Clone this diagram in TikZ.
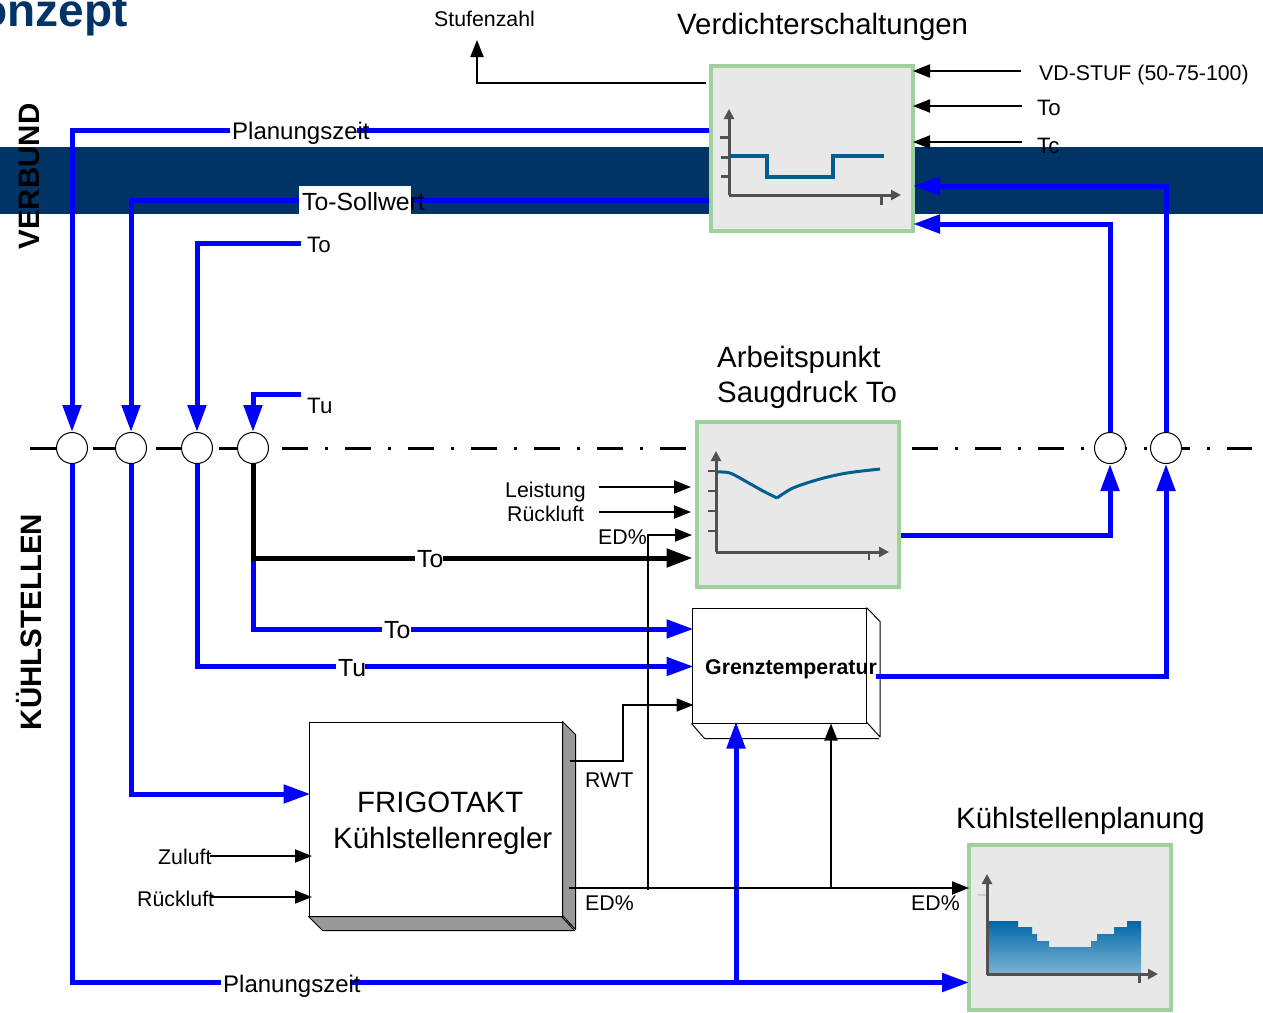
\documentclass[tikz,border=0pt]{standalone}
\usepackage{fontspec}
\setmainfont{Liberation Sans}
\usetikzlibrary{arrows.meta,calc}
\definecolor{navy}{HTML}{003366}
\definecolor{fb}{HTML}{0000FF}
\definecolor{gr}{HTML}{A0D09C}
\definecolor{pl}{HTML}{E8E8E8}
\definecolor{ax}{HTML}{555050}
\definecolor{cv}{HTML}{005F90}
\definecolor{shtop}{HTML}{0068A8}
\definecolor{shbot}{HTML}{7DB3D3}
\newcommand\fsz[1]{\fontsize{#1}{#1}\selectfont}
\newcommand\lab[2]{\makebox[#1][l]{\rule[-6pt]{0pt}{24pt}\hspace{2pt}#2}}
\newcommand\labtall[2]{\makebox[#1][l]{\rule[-5.5pt]{0pt}{30pt}\hspace{3pt}#2}}
\tikzset{
  x=1pt,y=-1pt,
  blueline/.style={draw=fb,line width=5pt,line join=miter,-{Triangle[length=27pt,width=18pt]}},
  thickblack/.style={draw=black,line width=5pt,-{Triangle[length=26pt,width=18pt]}},
  thinline/.style={draw=black,line width=2pt,-{Triangle[length=17pt,width=13pt]}},
  tobox/.style={shorten >=-2pt},
  chartbox/.style={draw=gr,line width=4pt,fill=pl,inner sep=0,minimum width=202pt,minimum height=165pt},
  junction/.style={circle,draw=black,fill=white,line width=1pt,minimum size=31pt,inner sep=0},
  small/.style={anchor=base west,inner sep=0,font=\fsz{21.3}},
  smallto/.style={anchor=base west,inner sep=0,font=\fsz{22.3}},
  big/.style={anchor=base west,inner sep=0,font=\fsz{29.4}},
  linelabel/.style={anchor=base west,inner sep=0,fill=white,font=\fsz{24}},
  linelabelb/.style={anchor=base west,inner sep=0,fill=white,font=\fsz{24.8}},
  axisline/.style={draw=ax,line width=3pt},
  axistip/.style={axisline,-{Triangle[length=10pt,width=10pt]}},
  curve/.style={draw=cv,line width=3.4pt},
  front/.style={draw=black,line width=1pt,fill=white,inner sep=0},
}
\begin{document}
\begin{tikzpicture}
\useasboundingbox (0,0) rectangle (1263,1012);
\clip (0,0) rectangle (1263,1012);
% band and title
\fill[navy] (0,147) rectangle (1263,214);
\node[anchor=base east,inner sep=0,text=navy,font=\fsz{46}\bfseries] (title) at (128,26) {Konzept};
\node[rotate=90,inner sep=0,font=\fsz{29.5}\bfseries] (verbund) at (29,176.5) {VERBUND};
\node[rotate=90,inner sep=0,font=\fsz{29.5}\bfseries] (kuehl) at (29,622) {KÜHLSTELLEN};
% dash-dot axis
\coordinate (axl) at (30,448);
\coordinate (axr) at (1252,448);
\draw[line width=3pt,dash pattern=on 26pt off 17pt on 3pt off 17pt] (axl) -- (axr);
% boxes
\node[chartbox] (v) at (812,148.5) {};
\node[chartbox] (a) at (798,504) {};
\node[chartbox] (k) at (1070,927) {};
% charts
\draw[axistip] (729,195) -- (729,109);
\draw[axistip] (729,195) -- (901,195);
\draw[axisline] (720,137) -- (729,137) (721,157) -- (729,157) (721,176) -- (729,176);
\draw[axisline] (881.5,195) -- (881.5,205);
\draw[curve] (730,156) -| (767,177) -| (833,156) -- (884,156);
\draw[axistip] (716,552) -- (716,451);
\draw[axistip] (716,552) -- (889,552);
\draw[axisline,line width=2pt] (708,471) -- (716,471) (708,491) -- (716,491) (708,511) -- (716,511) (708,531) -- (716,531);
\draw[axisline,line width=2pt] (869,552) -- (869,560);
\draw[curve,line width=3pt] plot[smooth,tension=.5] coordinates {(717,472) (730,473) (747,482) (763,491) (777,498)};
\draw[curve,line width=3pt] plot[smooth,tension=.5] coordinates {(777,498) (793,488) (820,479) (847,473) (880,469)};
\shade[top color=shtop,bottom color=shbot]
  (987,921) -- (1018,921) -- (1018,927) -- (1032,927) -- (1032,934) -- (1037,934) -- (1037,941) -- (1049,941) -- (1049,947) -- (1091,947) -- (1091,941) -- (1097,941) -- (1097,934) -- (1114,934) -- (1114,927) -- (1127,927) -- (1127,921) -- (1141,921) -- (1141,974) -- (987,974) -- cycle;
\draw[white!80!black,line width=2.5pt] (978,895) -- (988,895);
\draw[axistip] (987,975) -- (987,874);
\draw[axistip] (987,974) -- (1158,974);
\draw[axisline] (1139,974) -- (1139,983);
% Grenztemperatur
\node[front,minimum width=174pt,minimum height=115pt] (g) at (779,665.5) {};
\draw[line width=1pt,line join=round] (g.north east) -- ++(13.5,14) -- ++(0,115.5) -- ++(-13.5,-15) (g.south west) -- ++(13,15) -- ++(174.5,0);
% Frigotakt
\node[front,minimum width=253pt,minimum height=194pt] (f) at (435.5,819) {};
\filldraw[draw=black,fill=black!40,line width=1pt,line join=round] (f.north east) -- ++(13,13) -- ++(0,195) -- ++(-13,-14) -- cycle;
\filldraw[draw=black,fill=black!40,line width=1pt,line join=round] (f.south west) -- ++(14,14) -- ++(252,0) -- ++(-13,-14) -- cycle;
% junctions
\node[junction] (c1) at (72,448) {};
\node[junction] (c2) at (131,448) {};
\node[junction] (c3) at (197,448) {};
\node[junction] (c4) at (253,448) {};
\node[junction] (c5) at (1110,448) {};
\node[junction] (c6) at (1166,448) {};
% blue connectors
\coordinate (tuend) at (301,394);
\coordinate (toend) at (301,243);
\draw[blueline] (v.west |- 0,130) -| (c1.north);
\draw[blueline] (v.west |- 0,200.5) -| (c2.north);
\draw[blueline] (toend) -| (c3.north);
\draw[blueline] (tuend) -| (c4.north);
\draw[blueline,tobox] (c6.north) |- (v.east |- 0,186);
\draw[blueline,tobox] (c5.north) |- (v.east |- 0,224);
\draw[blueline] (a.east |- 0,535) -| (c5.south);
\coordinate (gout) at (876,676);
\draw[blueline] (gout) -| (c6.south);
\draw[blueline,tobox] (c1.south) |- (k.west |- 0,982.5);
\coordinate (kj) at (736,982.5);
\draw[blueline,tobox] (kj) -- (kj |- g.south);
\draw[blueline,tobox] (c2.south) |- (f.west |- 0,794);
\draw[blueline,tobox] (c3.south) |- (g.west |- 0,666.5);
\draw[blueline,tobox] (c4.south) |- (g.west |- 0,629);
\draw[thickblack,shorten >=2.5pt] (c4.south) |- (a.west |- 0,558);
% thin connectors
\coordinate (stufe) at (706,83);
\coordinate (stufet) at (477,40);
\draw[thinline] (stufe) -| (stufet);
\coordinate (vdin) at (1021,71);
\coordinate (toin) at (1022,106);
\coordinate (tcin) at (1022,142);
\draw[thinline,tobox] (vdin) -- (v.east |- vdin);
\draw[thinline,tobox] (toin) -- (v.east |- toin);
\draw[thinline,tobox] (tcin) -- (v.east |- tcin);
\coordinate (lin) at (599,487);
\coordinate (rin) at (599,512);
\draw[thinline] (lin) -- (691,487);
\draw[thinline] (rin) -- (691,512);
\coordinate (edv) at (648,890);
\draw[thinline] (edv) |- (692,535);
\coordinate (rwt) at (570,761);
\draw[thinline,tobox] (rwt) -| (623,705) -- (g.west |- 0,705);
\coordinate (edo) at (569,888);
\draw[thinline,tobox] (edo) -- (k.west |- edo);
\coordinate (edb) at (831,888);
\draw[thinline] (edb) -- (edb |- g.south);
\coordinate (zu) at (210,856);
\coordinate (ru) at (210,897);
\draw[thinline] (zu) -- (312,856);
\draw[thinline] (ru) -- (312,897);
% labels on lines
\node[linelabel] (lp1) at (230,139) {\lab{127pt}{Planungszeit}};
\node[linelabelb] (ls) at (299,210) {\labtall{112pt}{To-Sollwert}};
\node[linelabel] (lp2) at (221,992) {\lab{129pt}{Planungszeit}};
\node[linelabelb] (lto1) at (415,567.5) {\lab{28pt}{To}};
\node[linelabelb] (lto2) at (382,638) {\lab{29pt}{To}};
\node[linelabelb] (ltu) at (336,676) {\lab{29pt}{Tu}};
% plain labels
\node[smallto] (tt) at (307,252) {To};
\node[smallto] (tu) at (307,413) {Tu};
\node[small] (st) at (434,26) {Stufenzahl};
\node[big] (vt) at (677,34) {Verdichterschaltungen};
\node[small] (vd) at (1039,80) {VD-STUF (50-75-100)};
\node[smallto] (to) at (1037,115) {To};
\node[smallto] (tc) at (1037,153) {Tc};
\node[big] (at1) at (717,367) {Arbeitspunkt};
\node[big] (at2) at (717,402) {Saugdruck To};
\node[small] (le) at (505,497) {Leistung};
\node[small] (ru1) at (507,521) {Rückluft};
\node[small] (ed1) at (598,544) {ED\%};
\node[small,font=\fsz{21.3}\bfseries] (gt) at (705,674) {Grenztemperatur};
\node[big] (f1) at (357,812) {FRIGOTAKT};
\node[big] (f2) at (333,848) {Kühlstellenregler};
\node[small] (rw) at (585,787) {RWT};
\node[small] (ed2) at (585,910) {ED\%};
\node[small] (ed3) at (911,910) {ED\%};
\node[small] (zl) at (158,864) {Zuluft};
\node[small] (ru2) at (137,906) {Rückluft};
\node[big] (kt) at (956,828) {Kühlstellenplanung};
\end{tikzpicture}
\end{document}
